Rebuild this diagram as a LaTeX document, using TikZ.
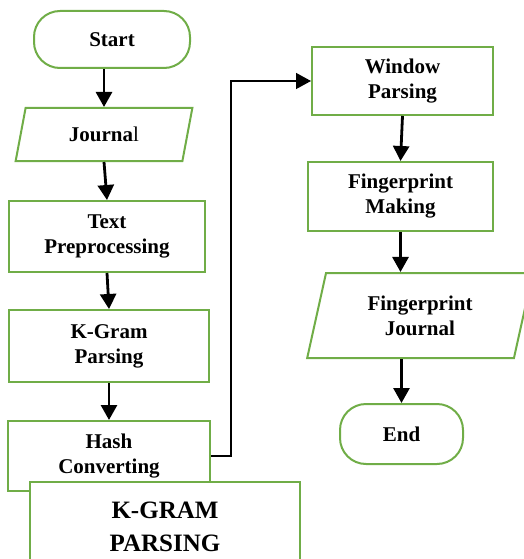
\documentclass[tikz,border=0pt]{standalone}
\usepackage{fontspec}
\setmainfont{Liberation Serif}
\usetikzlibrary{shapes.geometric,arrows.meta}
\definecolor{boxgreen}{HTML}{70AD47}

\tikzset{
  box/.style={draw=boxgreen, line width=2pt, fill=white, align=center,
    font=\fontsize{21}{25}\selectfont\bfseries, inner sep=2pt},
  terminal/.style={box, rectangle, rounded corners=26pt},
  process/.style={box, rectangle},
  io/.style={box, trapezium, trapezium left angle=76, trapezium right angle=104,
    trapezium stretches=true},
  flow/.style={line width=2.8pt, -{Triangle[width=16pt,length=15pt]}},
  link/.style={line width=1.4pt, -{Triangle[width=16pt,length=15pt]}},
}

\begin{document}
\begin{tikzpicture}[x=1pt, y=-1pt]
   \useasboundingbox (0,0) rectangle (524,559);
   % left column
   \node[terminal, minimum width=156pt, minimum height=57pt] (start) at (112,39.5) {Start};
   \node[io, minimum width=178pt, minimum height=53pt] (journal) at (104,134.5) {Journa\mdseries l};
   \node[process, minimum width=196pt, minimum height=71pt] (prepro) at (107,236.5) {Text\\Preprocessing};
   \node[process, minimum width=200pt, minimum height=72pt] (kgram) at (109,346) {K-Gram\\Parsing};
   \node[process, minimum width=202pt, minimum height=70pt] (hash) at (109,456) {Hash\\Converting};
   % right column
   \node[process, minimum width=181pt, minimum height=68pt] (window) at (402.5,81) {Window\\Parsing};
   \node[process, minimum width=185pt, minimum height=69pt] (fpmaking) at (400.5,196.5) {Fingerprint\\Making};
   \node[io, minimum width=226pt, minimum height=85pt] (fpjournal) at (420,315.5) {Fingerprint\\Journal};
   \node[terminal, minimum width=123pt, minimum height=60pt] (stop) at (401.5,434) {End};
   % caption box
   \node[process, minimum width=270pt, minimum height=90pt,
     font=\fontsize{25}{33}\selectfont\bfseries] (kgrambox) at (165,527) {K-GRAM\\PARSING};

   \draw[flow] (journal.north |- start.south) -- (journal.north);
   \draw[flow] (journal.south) -- (prepro.north);
   \draw[flow] (prepro.south) -- (kgram.north);
   \draw[flow] (kgram.south) -- (hash.north);
   \draw[link] (hash.east) -- ++(20,0) coordinate (turn) |- (window.west);
   \draw[flow] (window.south) -- (fpmaking.north);
   \draw[flow] (fpmaking.south) -- (fpmaking.south |- fpjournal.north);
   \draw[flow] (stop.north |- fpjournal.south) -- (stop.north);
\end{tikzpicture}
\end{document}
